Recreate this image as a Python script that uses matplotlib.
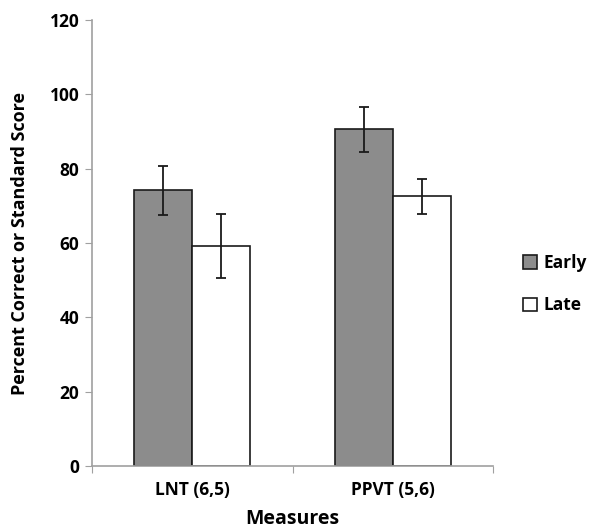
import matplotlib.pyplot as plt
import numpy as np

categories = ['LNT (6,5)', 'PPVT (5,6)']
early = [74.2, 90.6]
early_err = [6.6, 6.1]
late = [59.2, 72.6]
late_err = [8.5, 4.7]

plt.rcParams['font.family'] = ['Open Sans', 'DejaVu Sans']
plt.rcParams['font.weight'] = 'bold'

fig = plt.figure(figsize=(5.92, 5.28), dpi=100)
ax = fig.add_axes([0.1554, 0.1174, 0.6774, 0.8447])

x = np.arange(len(categories))
w = 0.29
ax.bar(x - w / 2, early, w, color='#8c8c8c', edgecolor='#1a1a1a', linewidth=1.2, label='Early')
ax.bar(x + w / 2, late, w, color='white', edgecolor='#1a1a1a', linewidth=1.2, label='Late')
ax.errorbar(x - w / 2, early, yerr=early_err, fmt='none', ecolor='#1a1a1a', elinewidth=1.3, capsize=3.5, capthick=1.3)
ax.errorbar(x + w / 2, late, yerr=late_err, fmt='none', ecolor='#1a1a1a', elinewidth=1.3, capsize=3.5, capthick=1.3)

ax.set_xlim(-0.5, 1.5)
ax.set_ylim(0, 120)
ax.set_yticks(range(0, 121, 20))
ax.set_xticks([-0.5, 0.5, 1.5], minor=False)
ax.set_xticklabels([])
ax.set_xticks(x, minor=True)
ax.set_xticklabels(categories, minor=True)
ax.tick_params(axis='x', which='minor', length=0, pad=11, labelsize=12.5)
ax.tick_params(axis='x', which='major', length=5, color='#a0a0a0', direction='out')
ax.tick_params(axis='y', length=5, color='#a0a0a0', labelsize=12.5, pad=4)

for s in ['top', 'right']:
    ax.spines[s].set_visible(False)
for s in ['left', 'bottom']:
    ax.spines[s].set_color('#a0a0a0')
    ax.spines[s].set_linewidth(1.2)

ax.set_xlabel('Measures', fontsize=14, fontweight='bold', labelpad=7)
ax.set_ylabel('Percent Correct or Standard Score', fontsize=13, fontweight='bold', labelpad=15)

leg = fig.legend(loc='center left', bbox_to_anchor=(0.883, 0.462), frameon=False,
                 fontsize=12.5, handlelength=0.8, handleheight=0.8, handletextpad=0.4,
                 labelspacing=1.4, borderpad=0, borderaxespad=0)

fig.savefig('out.png', dpi=100)
